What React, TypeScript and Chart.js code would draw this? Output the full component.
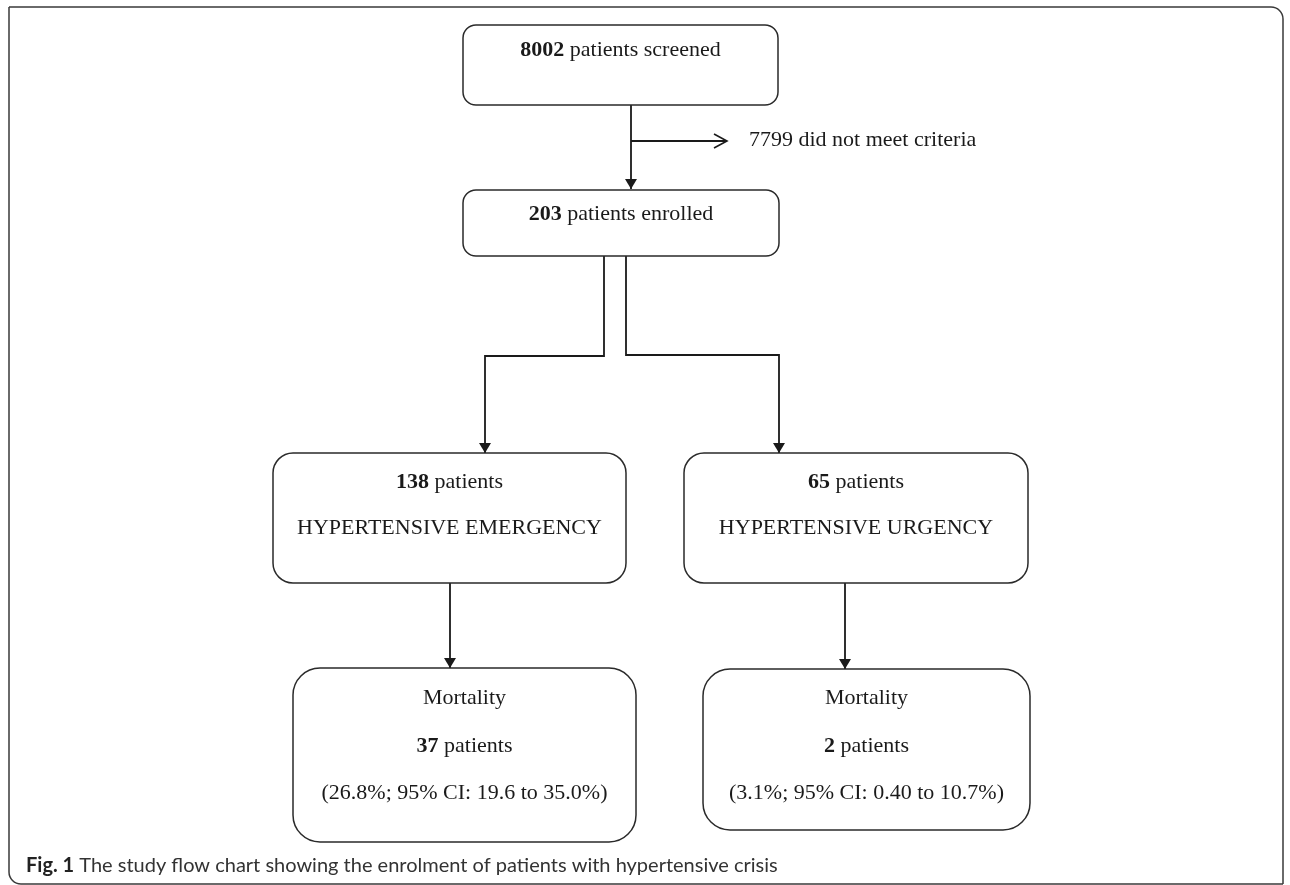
import React, { useEffect, useRef } from "react";
import { Chart, registerables } from "chart.js";
Chart.register(...registerables);

// ---- data ----
const stageCounts = [8002, 203, 138, 65, 37, 2];
const stageSuffix = [
  " patients screened",
  " patients enrolled",
  " patients",
  " patients",
  " patients",
  " patients",
];
const groupLabels = ["HYPERTENSIVE EMERGENCY", "HYPERTENSIVE URGENCY"];
const outcomeLabel = "Mortality";
const mortalityCI = ["(26.8%; 95% CI: 19.6 to 35.0%)", "(3.1%; 95% CI: 0.40 to 10.7%)"];
const excludedCount = 7799;
const excludedLabel = " did not meet criteria";
const captionBold = "Fig. 1";
const captionText = " The study flow chart showing the enrolment of patients with hypertensive crisis";

// ---- layout (diagram units mapped through the chart scales) ----
const W = 1290;
const H = 885;
const boxLayout = [
  { x1: 463, y1: 25, x2: 778, y2: 105, r: 13, rows: [50] },
  { x1: 463, y1: 190, x2: 779, y2: 256, r: 13, rows: [214] },
  { x1: 273, y1: 453, x2: 626, y2: 583, r: 20, rows: [482, 528] },
  { x1: 684, y1: 453, x2: 1028, y2: 583, r: 20, rows: [482, 528] },
  { x1: 293, y1: 668, x2: 636, y2: 842, r: 27, rows: [698, 746, 793] },
  { x1: 703, y1: 669, x2: 1030, y2: 830, r: 27, rows: [698, 746, 793] },
];
const connectorPaths = [
  [[631, 105], [631, 189]],
  [[631, 141], [727, 141]],
  [[604, 256], [604, 356], [485, 356], [485, 453]],
  [[626, 256], [626, 355], [779, 355], [779, 453]],
  [[450, 583], [450, 668]],
  [[845, 583], [845, 669]],
];
const arrowStyle = ["solid", "open", "solid", "solid", "solid", "solid"];
const excludedPos = { x: 749, y: 140 };
const captionPos = { x: 26, y: 866 };
const frame = { x1: 9, y1: 7, x2: 1283, y2: 884, r: 12 };

type Seg = { t: string; b: boolean };
function boxRows(i: number): Seg[][] {
  const countRow: Seg[] = [
    { t: String(stageCounts[i]), b: true },
    { t: stageSuffix[i], b: false },
  ];
  if (i < 2) return [countRow];
  if (i < 4) return [countRow, [{ t: groupLabels[i - 2], b: false }]];
  return [[{ t: outcomeLabel, b: false }], countRow, [{ t: mortalityCI[i - 4], b: false }]];
}

const SERIF = "'Liberation Serif', 'Times New Roman', serif";

export default function App() {
  const ref = useRef<HTMLCanvasElement | null>(null);
  useEffect(() => {
    document.body.style.margin = "0";
    const canvas = ref.current;
    if (!canvas) return;

    const flowPlugin = {
      id: "flow",
      beforeDraw(chart: any) {
        const c = chart.ctx;
        c.save();
        c.fillStyle = "#ffffff";
        c.fillRect(0, 0, chart.width, chart.height);
        c.restore();
      },
      afterDatasetsDraw(chart: any) {
        const c: CanvasRenderingContext2D = chart.ctx;
        const xs = chart.scales.x;
        const ys = chart.scales.y;
        const px = (v: number) => xs.getPixelForValue(v);
        const py = (v: number) => ys.getPixelForValue(v);
        c.save();

        // frame
        {
          const x1 = px(frame.x1), x2 = px(frame.x2), y1 = py(frame.y1), y2 = py(frame.y2);
          const r = frame.r;
          c.beginPath();
          c.moveTo(x1, y1);
          c.lineTo(x2 - r, y1);
          c.arcTo(x2, y1, x2, y1 + r, r);
          c.lineTo(x2, y2);
          c.moveTo(x1, y1);
          c.lineTo(x1, y2 - r);
          c.arcTo(x1, y2, x1 + r, y2, r);
          c.lineTo(x2, y2);
          c.strokeStyle = "#3a3a3a";
          c.lineWidth = 1.5;
          c.stroke();
        }

        // boxes
        boxLayout.forEach((bx, i) => {
          const x1 = px(bx.x1), x2 = px(bx.x2), y1 = py(bx.y1), y2 = py(bx.y2);
          c.beginPath();
          c.roundRect(x1, y1, x2 - x1, y2 - y1, bx.r);
          c.strokeStyle = "#2a2a2a";
          c.lineWidth = 1.5;
          c.stroke();
          const cx = (x1 + x2) / 2;
          const rows = boxRows(i);
          rows.forEach((segs, k) => {
            const y = py(bx.rows[k]);
            let total = 0;
            const widths = segs.map((s) => {
              c.font = `${s.b ? "bold " : ""}22px ${SERIF}`;
              const w = c.measureText(s.t).width;
              total += w;
              return w;
            });
            let x = cx - total / 2;
            c.textBaseline = "middle";
            c.textAlign = "left";
            c.fillStyle = "#1a1a1a";
            segs.forEach((s, j) => {
              c.font = `${s.b ? "bold " : ""}22px ${SERIF}`;
              c.fillText(s.t, x, y);
              x += widths[j];
            });
          });
        });

        // arrowheads
        connectorPaths.forEach((path, i) => {
          const a = path[path.length - 2];
          const b = path[path.length - 1];
          const ax = px(a[0]), ay = py(a[1]), bx = px(b[0]), by = py(b[1]);
          const ang = Math.atan2(by - ay, bx - ax);
          c.save();
          c.translate(bx, by);
          c.rotate(ang);
          c.fillStyle = "#1a1a1a";
          c.strokeStyle = "#1a1a1a";
          if (arrowStyle[i] === "solid") {
            c.beginPath();
            c.moveTo(0, 0);
            c.lineTo(-10, -6);
            c.lineTo(-10, 6);
            c.closePath();
            c.fill();
          } else {
            c.beginPath();
            c.moveTo(-13, -7);
            c.lineTo(0, 0);
            c.lineTo(-13, 7);
            c.lineWidth = 1.6;
            c.stroke();
          }
          c.restore();
        });

        // excluded text
        c.font = `22px ${SERIF}`;
        c.fillStyle = "#1a1a1a";
        c.textBaseline = "middle";
        c.textAlign = "left";
        c.fillText(String(excludedCount) + excludedLabel, px(excludedPos.x), py(excludedPos.y));

        // caption
        const CAP = "20px Lato, 'Open Sans', sans-serif";
        c.font = `bold ${CAP}`;
        c.fillStyle = "#222";
        c.fillText(captionBold, px(captionPos.x), py(captionPos.y));
        const bw = c.measureText(captionBold).width;
        c.font = CAP;
        c.fillStyle = "#333";
        c.fillText(captionText, px(captionPos.x) + bw, py(captionPos.y));
        c.restore();
      },
    };

    const datasets = connectorPaths.map((path, i) => ({
      label: "link" + i,
      data: path.map((p) => ({ x: p[0], y: p[1] })),
      showLine: true,
      borderColor: "#1a1a1a",
      borderWidth: 1.8,
      pointRadius: 0,
      fill: false,
      tension: 0,
    }));

    const chart = new Chart(canvas, {
      type: "scatter",
      data: { datasets },
      options: {
        animation: false,
        responsive: false,
        events: [],
        layout: { padding: 0 },
        plugins: { legend: { display: false }, tooltip: { enabled: false } },
        scales: {
          x: { type: "linear", min: 0, max: W, display: false },
          y: { type: "linear", min: 0, max: H, reverse: true, display: false },
        },
      },
      plugins: [flowPlugin],
    });
    return () => chart.destroy();
  }, []);

  return (
    <div style={{ width: W, height: H }}>
      <canvas ref={ref} width={W} height={H} style={{ display: "block" }} />
    </div>
  );
}
